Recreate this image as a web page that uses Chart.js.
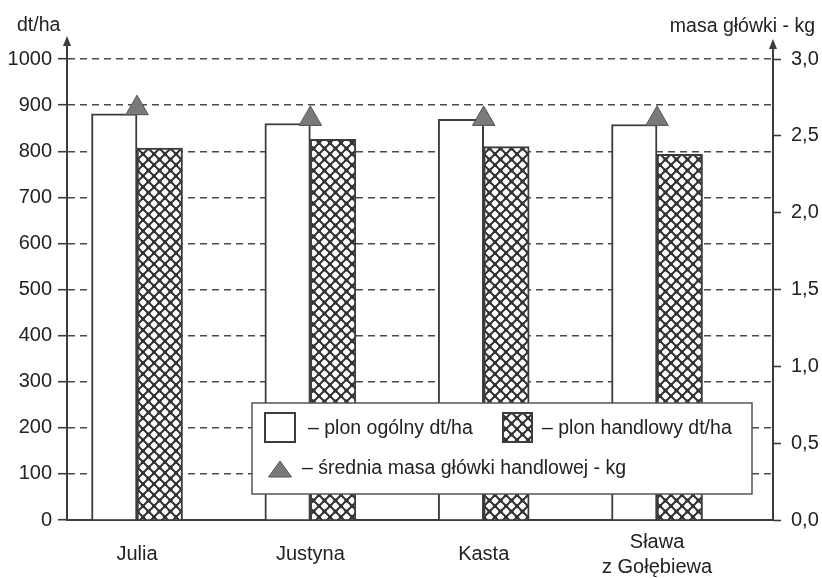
<!DOCTYPE html>
<html>
<head>
<meta charset="utf-8">
<script src="https://cdn.jsdelivr.net/npm/chart.js@4/dist/chart.umd.min.js"></script>
<style>
  html, body { margin: 0; padding: 0; background: #fff; }
  canvas { display: block; }
</style>
</head>
<body>
<canvas id="wykres" width="822" height="578"></canvas>
<script>
// Odmiany kapusty i wyniki plonowania
const odmiany = ['Julia', 'Justyna', 'Kasta', ['Sława', 'z Gołębiewa']];
const plonOgolny = [881, 860, 869, 858];        // dt/ha
const plonHandlowy = [807, 826, 810, 793];      // dt/ha
const masaGlowki = [2.68, 2.61, 2.61, 2.61];    // kg

// Skale osi
const osLewaTicki = [0, 100, 200, 300, 400, 500, 600, 700, 800, 900, 1000];
const osPrawaTicki = [0, 0.5, 1.0, 1.5, 2.0, 2.5, 3.0];

const FONT = "'Liberation Sans', Arial, sans-serif";
const ROZMIAR = 20;
const ROZMIAR_OPISU = 19.5;
const TEKST = '#222';
const LINIA = '#3c3c3c';

// Wzór kratki dla plonu handlowego: skośna siatka o zaokrąglonych oczkach
function wzorKratki() {
  const s = 11;
  const c = document.createElement('canvas');
  c.width = c.height = s;
  const g = c.getContext('2d');
  g.fillStyle = '#fff';
  g.fillRect(0, 0, s, s);
  g.strokeStyle = '#333';
  g.lineWidth = 2;
  g.beginPath();
  for (const d of [-s, 0, s]) {
    g.moveTo(d, 0); g.lineTo(d + s, s);
    g.moveTo(d + s, 0); g.lineTo(d, s);
  }
  g.stroke();
  g.fillStyle = '#333';
  for (const [x, y] of [[0, 0], [s, 0], [0, s], [s, s], [s / 2, s / 2]]) {
    g.beginPath();
    g.arc(x, y, 2.1, 0, Math.PI * 2);
    g.fill();
  }
  return g.createPattern(c, 'repeat');
}
const kratka = wzorKratki();

function trojkat(ctx, cx, baseY, w, h, fill, stroke) {
  ctx.beginPath();
  ctx.moveTo(cx, baseY - h);
  ctx.lineTo(cx + w / 2, baseY);
  ctx.lineTo(cx - w / 2, baseY);
  ctx.closePath();
  ctx.fillStyle = fill;
  ctx.fill();
  if (stroke) { ctx.strokeStyle = stroke; ctx.lineWidth = 1; ctx.stroke(); }
}

// Strzałki osi, opisy osi i legenda
const dekoracje = {
  id: 'dekoracje',
  afterDraw(chart) {
    const { ctx, chartArea: a } = chart;
    ctx.save();

    // przedłużenia osi ze strzałkami
    ctx.strokeStyle = LINIA;
    ctx.lineWidth = 2;
    ctx.beginPath();
    ctx.moveTo(a.left, a.top); ctx.lineTo(a.left, 44);
    ctx.moveTo(a.right, a.top); ctx.lineTo(a.right, 47);
    ctx.stroke();
    trojkat(ctx, a.left, 46, 8, 10, LINIA);
    trojkat(ctx, a.right, 49, 8, 10, LINIA);

    // opisy osi
    ctx.font = `${ROZMIAR_OPISU}px ${FONT}`;
    ctx.fillStyle = TEKST;
    ctx.textBaseline = 'alphabetic';
    ctx.textAlign = 'left';
    ctx.fillText('dt/ha', 17, 31);
    ctx.textAlign = 'right';
    ctx.fillText('masa główki - kg', 815, 32);

    // legenda
    const L = { x: 252, y: 403, w: 500, h: 91 };
    ctx.fillStyle = '#fff';
    ctx.fillRect(L.x, L.y, L.w, L.h);
    ctx.strokeStyle = '#555';
    ctx.lineWidth = 1.5;
    ctx.strokeRect(L.x, L.y, L.w, L.h);

    ctx.lineWidth = 2;
    ctx.strokeStyle = LINIA;
    ctx.fillStyle = '#fff';
    ctx.fillRect(265, 413, 30, 29);
    ctx.strokeRect(265, 413, 30, 29);
    ctx.fillStyle = kratka;
    ctx.fillRect(503, 413, 29, 29);
    ctx.strokeRect(503, 413, 29, 29);
    trojkat(ctx, 280, 477, 23, 16, '#7a7a7a', '#555');

    ctx.fillStyle = TEKST;
    ctx.textAlign = 'left';
    ctx.textBaseline = 'middle';
    ctx.fillText('– plon ogólny dt/ha', 308, 429);
    ctx.fillText('– plon handlowy dt/ha', 542, 429);
    ctx.fillText('– średnia masa główki handlowej - kg', 302, 469);

    ctx.restore();
  }
};

const dane = {
  datasets: [
    {
      type: 'line',
      label: 'średnia masa główki handlowej - kg',
      data: masaGlowki.map((v, i) => ({ x: i, y: v })),
      yAxisID: 'y1',
      showLine: false,
      pointStyle: 'triangle',
      pointRadius: 13,
      pointBackgroundColor: '#7a7a7a',
      pointBorderColor: '#555',
      pointBorderWidth: 1,
      order: 0,
      clip: false
    },
    {
      type: 'bar',
      label: 'plon ogólny dt/ha',
      data: plonOgolny.map((v, i) => ({ x: i, y: v })),
      yAxisID: 'y',
      backgroundColor: '#fff',
      borderColor: LINIA,
      borderWidth: 2,
      barThickness: 45.5,
      order: 1
    },
    {
      type: 'bar',
      label: 'plon handlowy dt/ha',
      data: plonHandlowy.map((v, i) => ({ x: i, y: v })),
      yAxisID: 'y',
      backgroundColor: kratka,
      borderColor: LINIA,
      borderWidth: 2,
      barThickness: 45.5,
      order: 1
    }
  ]
};

Chart.defaults.font.family = FONT;
Chart.defaults.font.size = ROZMIAR;
Chart.defaults.color = TEKST;

new Chart(document.getElementById('wykres'), {
  type: 'bar',
  data: dane,
  plugins: [dekoracje],
  options: {
    responsive: false,
    animation: false,
    layout: { padding: { top: 59, left: 0, right: 0, bottom: 0 } },
    plugins: { legend: { display: false }, tooltip: { enabled: false } },
    scales: {
      x: {
        type: 'linear',
        offset: false,
        min: -0.404,
        max: 3.669,
        afterBuildTicks: s => { s.ticks = odmiany.map((_, i) => ({ value: i })); },
        afterFit: s => { s.height = 58; },
        grid: { display: false },
        border: { display: true, color: LINIA, width: 2 },
        ticks: {
          autoSkip: false,
          maxRotation: 0,
          padding: 14,
          crossAlign: 'center',
          font: { lineHeight: 1.25 },
          callback: v => odmiany[v]
        }
      },
      y: {
        position: 'left',
        min: osLewaTicki[0],
        max: osLewaTicki[osLewaTicki.length - 1],
        afterBuildTicks: s => { s.ticks = osLewaTicki.map(v => ({ value: v })); },
        afterFit: s => { s.width = 67; },
        border: { display: true, color: LINIA, width: 2, dash: [7, 5] },
        grid: {
          color: '#4a4a4a',
          lineWidth: 1.4,
          drawTicks: true,
          tickLength: 9,
          tickColor: LINIA,
          tickWidth: 1.6,
          tickBorderDash: []
        },
        ticks: { padding: 6, callback: v => String(v) }
      },
      y1: {
        position: 'right',
        min: osPrawaTicki[0],
        max: osPrawaTicki[osPrawaTicki.length - 1],
        afterBuildTicks: s => { s.ticks = osPrawaTicki.map(v => ({ value: v })); },
        afterFit: s => { s.width = 49; },
        border: { display: true, color: LINIA, width: 2 },
        grid: {
          drawOnChartArea: false,
          tickLength: 8,
          tickColor: LINIA,
          tickWidth: 1.6
        },
        ticks: { padding: 10, callback: v => v.toFixed(1).replace('.', ',') }
      }
    }
  }
});
</script>
</body>
</html>
